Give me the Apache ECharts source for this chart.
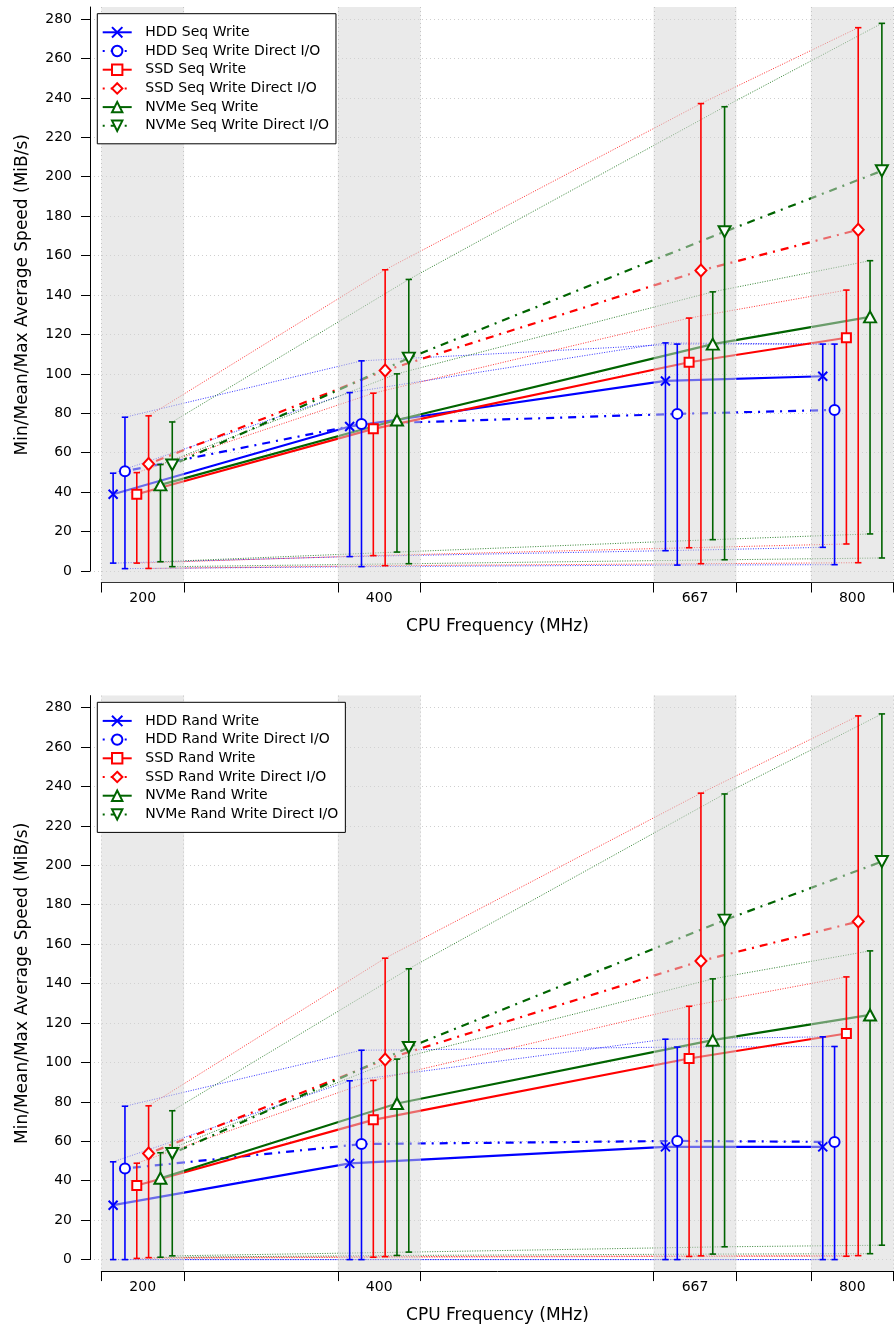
<!DOCTYPE html>
<html>
<head>
<meta charset="utf-8">
<script src="https://cdn.jsdelivr.net/npm/echarts@6/dist/echarts.min.js"></script>
<style>html,body{margin:0;padding:0;background:#fff}#c{width:894px;height:1331px}</style>
</head>
<body>
<div id="c"></div>
<script>
// ---------------- data ----------------
const freqs = [200, 400, 667, 800];
const yTicks = [0, 20, 40, 60, 80, 100, 120, 140, 160, 180, 200, 220, 240, 260, 280];
const xTitle = 'CPU Frequency (MHz)';
const yTitle = 'Min/Mean/Max Average Speed (MiB/s)';

const seqNames = ['HDD Seq Write', 'HDD Seq Write Direct I/O', 'SSD Seq Write',
  'SSD Seq Write Direct I/O', 'NVMe Seq Write', 'NVMe Seq Write Direct I/O'];
const seqMean = [
  [38.9, 73.3, 96.4, 98.8],
  [50.6, 74.6, 79.7, 81.7],
  [38.9, 72.1, 105.9, 118.3],
  [54.3, 101.7, 152.4, 173.1],
  [43.7, 76.6, 115.1, 128.9],
  [53.8, 108.0, 172.1, 203.0]
];
const seqMin = [
  [4.0, 7.3, 10.3, 12.0],
  [1.2, 2.2, 3.0, 3.2],
  [4.0, 7.8, 11.8, 13.7],
  [1.3, 2.7, 3.7, 4.2],
  [4.7, 9.6, 15.9, 18.8],
  [2.2, 3.7, 5.7, 6.6]
];
const seqMax = [
  [49.6, 90.5, 115.7, 115.1],
  [78.0, 106.6, 115.1, 115.1],
  [49.9, 90.2, 128.3, 142.5],
  [78.7, 152.8, 237.1, 275.6],
  [54.0, 100.0, 141.6, 157.4],
  [75.6, 147.9, 235.5, 277.8]
];

const randNames = ['HDD Rand Write', 'HDD Rand Write Direct I/O', 'SSD Rand Write',
  'SSD Rand Write Direct I/O', 'NVMe Rand Write', 'NVMe Rand Write Direct I/O'];
const randMean = [
  [27.6, 48.8, 57.2, 57.2],
  [46.2, 58.6, 60.2, 59.7],
  [37.6, 70.9, 102.0, 114.7],
  [53.8, 101.5, 151.5, 171.5],
  [41.3, 79.2, 111.3, 124.1],
  [53.8, 107.6, 172.2, 201.9]
];
const randMin = [
  [0.0, 0.0, 0.0, 0.0],
  [0.0, 0.0, 0.0, 0.0],
  [0.6, 1.2, 1.6, 1.7],
  [1.0, 1.5, 1.9, 2.0],
  [1.2, 2.1, 2.8, 3.0],
  [1.9, 3.8, 6.5, 7.3]
];
const randMax = [
  [49.6, 90.7, 111.8, 113.0],
  [77.8, 106.2, 107.8, 108.1],
  [48.9, 90.9, 128.5, 143.4],
  [78.0, 152.9, 236.6, 275.8],
  [54.2, 101.7, 142.4, 156.6],
  [75.5, 147.5, 236.2, 276.8]
];

// ---------------- styles / layout ----------------
const colors = ['#0000ff', '#0000ff', '#ff0000', '#ff0000', '#006400', '#006400'];
const symbols = ['path://M0,0L10,10M10,0L0,10', 'circle', 'rect', 'diamond', 'triangle', 'path://M0,0L10,0L5,8.66Z'];
const symbolSizes = [9, 10, 9, [11, 12], [12, 11], [12, 11]];
const isDirect = [false, true, false, true, false, true];
const dodge = [-25, -15, -5, 5, 15, 25];
const bandHalf = 35;
const xMin = 165, xMax = 835;
const K = 1.9714;          // px per MiB/s
const H0 = 564;            // px from plot top to value 0
const PH = 575.5;          // plot height
const FONT = 'DejaVu Sans';

const grids = [], xAxes = [], yAxes = [], series = [], legends = [];

function buildPanel(p, top, names, mean, mins, maxs) {
  const g = p * 3;
  grids.push({left: 101.3, width: 792.4, top: top, height: PH, outerBoundsMode: 'none', containLabel: false});
  grids.push({left: 90, width: 1, top: top, height: H0, outerBoundsMode: 'none', containLabel: false});
  grids.push({left: 90, right: 0, top: top + H0 - 280 * K, height: 280 * K, outerBoundsMode: 'none', containLabel: false});

  const bandEdges = [];
  freqs.forEach(f => { bandEdges.push(f - bandHalf, f + bandHalf); });

  xAxes.push({
    gridIndex: g, type: 'value', min: xMin, max: xMax,
    name: xTitle, nameLocation: 'middle', nameGap: 36,
    nameTextStyle: {fontSize: 17, color: '#000', fontFamily: FONT},
    axisLine: {show: true, onZero: false, lineStyle: {color: '#000', width: 1}},
    axisTick: {show: true, customValues: bandEdges, length: 10, inside: false, lineStyle: {color: '#000', width: 1}},
    axisLabel: {show: true, customValues: freqs, margin: 9, fontSize: 14, color: '#000', fontFamily: FONT},
    splitLine: {show: false}
  });
  xAxes.push({gridIndex: g + 1, type: 'value', min: 0, max: 1, show: false});
  xAxes.push({gridIndex: g + 2, type: 'value', min: 0, max: 1, show: false});

  yAxes.push({
    gridIndex: g, type: 'value', min: -(PH - H0) / K, max: H0 / K,
    name: yTitle, nameLocation: 'middle', nameGap: 70, nameRotate: 90,
    nameTextStyle: {fontSize: 17, color: '#000', fontFamily: FONT},
    axisLine: {show: false}, axisTick: {show: false}, axisLabel: {show: false}, splitLine: {show: false}
  });
  yAxes.push({
    gridIndex: g + 1, type: 'value', min: 0, max: 1,
    axisLine: {show: true, onZero: false, lineStyle: {color: '#000', width: 1}},
    axisTick: {show: false}, axisLabel: {show: false}, splitLine: {show: false}
  });
  yAxes.push({
    gridIndex: g + 2, type: 'value', min: yTicks[0], max: yTicks[yTicks.length - 1], interval: 20,
    axisLine: {show: false},
    axisTick: {show: true, length: 9, lineStyle: {color: '#000', width: 1}},
    axisLabel: {show: true, margin: 18, fontSize: 14, color: '#000', fontFamily: FONT},
    splitLine: {show: true, lineStyle: {color: '#cfcfcf', width: 1, type: [1, 3]}}
  });

  // gray bands (drawn over the lines, under the error bars)
  series.push({
    type: 'custom', name: 'bands' + p, xAxisIndex: g, yAxisIndex: g, z: 3, silent: true,
    data: freqs.map(f => [f - bandHalf, f + bandHalf]),
    encode: {x: [0, 1]},
    renderItem(params, api) {
      const cs = params.coordSys;
      const x0 = api.coord([api.value(0), 0])[0];
      const x1 = api.coord([api.value(1), 0])[0];
      const ls = {stroke: '#c4c4c4', lineWidth: 1, lineDash: [1, 3]};
      return {type: 'group', children: [
        {type: 'rect', shape: {x: x0, y: cs.y, width: x1 - x0, height: cs.height}, style: {fill: 'rgba(214,214,214,0.5)'}},
        {type: 'line', shape: {x1: Math.round(x0) + 0.5, y1: cs.y, x2: Math.round(x0) + 0.5, y2: cs.y + cs.height}, style: ls},
        {type: 'line', shape: {x1: Math.round(x1) - 0.5, y1: cs.y, x2: Math.round(x1) - 0.5, y2: cs.y + cs.height}, style: ls}
      ]};
    }
  });

  for (let i = 0; i < 6; i++) {
    const xs = freqs.map(f => f + dodge[i]);
    const c = colors[i];
    series.push({
      type: 'line', name: names[i], xAxisIndex: g, yAxisIndex: g, z: 2, silent: true,
      data: xs.map((x, j) => [x, mean[i][j]]),
      showSymbol: false, symbol: symbols[i], symbolSize: symbolSizes[i],
      itemStyle: {color: '#fff', borderColor: c, borderWidth: 2},
      lineStyle: {color: c, width: 2.2, type: isDirect[i] ? [2, 6, 8, 6] : 'solid'}
    });
    series.push({
      type: 'line', name: names[i] + ' (min)', xAxisIndex: g, yAxisIndex: g, z: 2, silent: true,
      data: xs.map((x, j) => [x, mins[i][j]]), symbol: 'none',
      lineStyle: {color: c, width: 1, type: [1, 1.5], opacity: 0.8}
    });
    series.push({
      type: 'line', name: names[i] + ' (max)', xAxisIndex: g, yAxisIndex: g, z: 2, silent: true,
      data: xs.map((x, j) => [x, maxs[i][j]]), symbol: 'none',
      lineStyle: {color: c, width: 1, type: [1, 1.5], opacity: 0.8}
    });
    series.push({
      type: 'custom', name: names[i] + ' (range)', xAxisIndex: g, yAxisIndex: g, z: 4, silent: true,
      data: xs.map((x, j) => [x, mins[i][j], maxs[i][j]]),
      encode: {x: 0, y: [1, 2]},
      renderItem(params, api) {
        const lo = api.coord([api.value(0), api.value(1)]);
        const hi = api.coord([api.value(0), api.value(2)]);
        const w = 3.2;
        const st = {stroke: c, lineWidth: 1.6};
        return {type: 'group', children: [
          {type: 'line', shape: {x1: lo[0], y1: lo[1], x2: hi[0], y2: hi[1]}, style: st},
          {type: 'line', shape: {x1: lo[0] - w, y1: lo[1], x2: lo[0] + w, y2: lo[1]}, style: st},
          {type: 'line', shape: {x1: hi[0] - w, y1: hi[1], x2: hi[0] + w, y2: hi[1]}, style: st}
        ]};
      }
    });
    series.push({
      type: 'scatter', name: names[i] + ' (mean)', xAxisIndex: g, yAxisIndex: g, z: 5, silent: true,
      data: xs.map((x, j) => [x, mean[i][j]]),
      symbol: symbols[i], symbolSize: symbolSizes[i],
      itemStyle: {color: '#fff', borderColor: c, borderWidth: 2, opacity: 1}
    });
  }

  legends.push({
    data: names, orient: 'vertical', left: 97.3, top: top + 6.7,
    itemWidth: 29, itemHeight: 13, itemGap: 4.7,
    padding: [11.6, 7, 11, 4.4],
    borderColor: '#000', borderWidth: 1, borderRadius: 0, backgroundColor: '#fff',
    textStyle: {fontSize: 14, color: '#000', fontFamily: FONT, padding: [0, 0, 0, 8.6]},
    selectedMode: false, z: 10
  });
}

buildPanel(0, 7, seqNames, seqMean, seqMin, seqMax);
buildPanel(1, 695.6, randNames, randMean, randMin, randMax);

const chart = echarts.init(document.getElementById('c'), null, {renderer: 'canvas'});
chart.setOption({
  animation: false,
  backgroundColor: '#fff',
  textStyle: {fontFamily: FONT},
  grid: grids, xAxis: xAxes, yAxis: yAxes, series: series, legend: legends
});
</script>
</body>
</html>
